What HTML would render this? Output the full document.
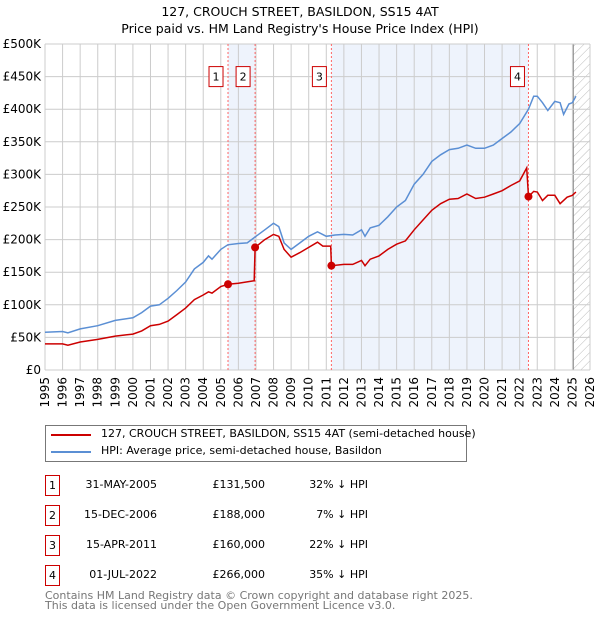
<!DOCTYPE html>
<html><head><meta charset="utf-8"><style>
body{margin:0;background:#fff;font-family:"DejaVu Sans","Liberation Sans",sans-serif;}
#wrap{position:relative;width:600px;height:620px;overflow:hidden}
.t{position:absolute;font-size:11px;color:#000;white-space:nowrap}
.box{position:absolute;width:13px;height:19px;border:1px solid #c00;font-size:11px;text-align:center;line-height:19px}
</style></head><body><div id="wrap">
<div class="t" style="left:0;width:600px;text-align:center;top:4px;font-size:12.5px">127, CROUCH STREET, BASILDON, SS15 4AT</div>
<div class="t" style="left:0;width:600px;text-align:center;top:21px;font-size:12.5px">Price paid vs. HM Land Registry's House Price Index (HPI)</div>
<svg id="chart" width="600" height="420" style="position:absolute;left:0;top:0"></svg>
<div style="position:absolute;left:45px;top:425px;width:420px;height:35px;border:1px solid #777">
<div><div style="position:absolute;left:5px;top:8px;width:40px;height:2px;background:#c00"></div><div class="t" style="left:55px;top:1px">127, CROUCH STREET, BASILDON, SS15 4AT (semi-detached house)</div></div>
<div><div style="position:absolute;left:5px;top:25px;width:40px;height:2px;background:#5b8fd4"></div><div class="t" style="left:55px;top:18px">HPI: Average price, semi-detached house, Basildon</div></div>
</div>
<div id="tbl"></div>
<div class="t" style="left:45px;top:589px;color:#777">Contains HM Land Registry data © Crown copyright and database right 2025.</div>
<div class="t" style="left:45px;top:599px;color:#777">This data is licensed under the Open Government Licence v3.0.</div>
</div>
<script>
const hpiYears=[1995,1996,1996.3,1997,1998,1999,2000,2000.5,2001,2001.5,2002,2002.5,2003,2003.5,2004,2004.3,2004.5,2005,2005.4,2006,2006.5,2007,2007.5,2008,2008.3,2008.6,2009,2009.5,2010,2010.5,2011,2011.5,2012,2012.5,2013,2013.2,2013.5,2014,2014.5,2015,2015.5,2016,2016.5,2017,2017.5,2018,2018.5,2019,2019.5,2020,2020.5,2021,2021.5,2022,2022.5,2022.8,2023,2023.3,2023.6,2024,2024.3,2024.5,2024.8,2025,2025.2];
const hpiValues=[58,59,57,63,68,76,80,88,98,100,110,122,135,155,165,175,170,185,192,194,195,205,215,225,220,195,185,195,205,212,205,207,208,207,215,205,218,222,235,250,260,285,300,320,330,338,340,345,340,340,345,355,365,378,400,420,420,410,398,412,410,392,408,410,420];
const priceYears=[1995,1996,1996.3,1997,1998,1999,2000,2000.5,2001,2001.5,2002,2002.5,2003,2003.5,2004,2004.3,2004.5,2005,2005.41,2006,2006.9,2006.95,2007.5,2008,2008.3,2008.6,2009,2009.5,2010,2010.5,2010.8,2011.25,2011.29,2012,2012.5,2013,2013.2,2013.5,2014,2014.5,2015,2015.5,2016,2016.5,2017,2017.5,2018,2018.5,2019,2019.5,2020,2020.5,2021,2021.5,2022,2022.4,2022.5,2022.8,2023,2023.3,2023.6,2024,2024.3,2024.7,2025,2025.2];
const priceValues=[40,40,38,43,47,52,55,60,68,70,75,85,95,108,115,120,118,128,131.5,133,137,188,200,208,205,185,173,180,188,196,190,190,160,162,162,168,160,170,175,185,193,198,215,230,245,255,262,263,270,263,265,270,275,283,290,310,266,274,273,260,268,268,255,265,268,273];
const saleLabels=["1","2","3","4"];
const saleDates=[2005.41,2006.95,2011.29,2022.5];
const saleValues=[131.5,188,160,266];
const saleDateText=["31-MAY-2005","15-DEC-2006","15-APR-2011","01-JUL-2022"];
const salePriceText=["£131,500","£188,000","£160,000","£266,000"];
const saleDiffText=["32% ↓ HPI","7% ↓ HPI","22% ↓ HPI","35% ↓ HPI"];
const yTicks=[0,50,100,150,200,250,300,350,400,450,500];
const yTickLabels=["£0","£50K","£100K","£150K","£200K","£250K","£300K","£350K","£400K","£450K","£500K"];
const xTicks=[];for(let y=1995;y<=2026;y++)xTicks.push(y);

const L=45,R=590,T=44,B=370;
const xs=v=>L+(v-1995)/(2026-1995)*(R-L);
const ys=v=>B-v/500*(B-T);
const svg=document.getElementById('chart');const NS='http://www.w3.org/2000/svg';
function mk(tag,attrs,name){const e=document.createElementNS(NS,tag);for(const k in attrs)e.setAttribute(k,attrs[k]);


svg.appendChild(e);return e;}
mk('rect',{x:xs(saleDates[0]),y:T,width:xs(saleDates[1])-xs(saleDates[0]),height:B-T,fill:'#eef3fc'},'shade-span-1-2');
mk('rect',{x:xs(saleDates[2]),y:T,width:xs(saleDates[3])-xs(saleDates[2]),height:B-T,fill:'#eef3fc'},'shade-span-3-4');
const defs=mk('defs',{},'defs');
defs.innerHTML='<pattern id="h" width="6" height="6" patternUnits="userSpaceOnUse" patternTransform="rotate(45)"><line x1="0" y1="0" x2="0" y2="6" stroke="#bbb" stroke-width="1"/></pattern>';
mk('rect',{x:xs(2025.05),y:T,width:R-xs(2025.05),height:B-T,fill:'url(#h)'},'forecast-hatch');
mk('line',{x1:xs(2025.05),y1:T,x2:xs(2025.05),y2:B,stroke:'#888','stroke-width':1},'data-end-line');
xTicks.forEach(y=>{mk('line',{x1:xs(y),y1:T,x2:xs(y),y2:B,stroke:'#ccc','stroke-width':1},'x-grid-'+y);
const t=mk('text',{x:0,y:0,'font-size':12,'text-anchor':'end',transform:`translate(${xs(y)+4},377) rotate(-90)`},'x-tick-'+y);t.textContent=y;});
yTicks.forEach((v,i)=>{mk('line',{x1:L,y1:ys(v),x2:R,y2:ys(v),stroke:'#ccc','stroke-width':1},'y-grid-'+v);
const t=mk('text',{x:L-4,y:ys(v)+4,'font-size':12,'text-anchor':'end'},'y-tick-'+v);t.textContent=yTickLabels[i];});
saleDates.forEach((d,i)=>{mk('line',{x1:xs(d),y1:T,x2:xs(d),y2:B,stroke:'#f66','stroke-width':1,'stroke-dasharray':'2,2'},'sale-line-'+saleLabels[i]);
const bx=xs(d)-(i==3?3:4)-15;mk('rect',{x:bx,y:ys(450)-10,width:14,height:20,fill:'#fff',stroke:'#c00'},'sale-marker-box-'+saleLabels[i]);
const t=mk('text',{x:bx+7,y:ys(450)+4,'font-size':11,'text-anchor':'middle'},'sale-marker-label-'+saleLabels[i]);t.textContent=saleLabels[i];});
const pts=(xa,va)=>xa.map((x,i)=>xs(x).toFixed(1)+','+ys(va[i]).toFixed(1)).join(' ');
mk('polyline',{points:pts(hpiYears,hpiValues),fill:'none',stroke:'#5b8fd4','stroke-width':1.5},'hpi-line');
mk('polyline',{points:pts(priceYears,priceValues),fill:'none',stroke:'#c00','stroke-width':1.5},'price-line');
saleDates.forEach((d,i)=>mk('circle',{cx:xs(d),cy:ys(saleValues[i]),r:4,fill:'#c00'},'sale-point-'+saleLabels[i]));
const tbl=document.getElementById('tbl');
saleLabels.forEach((l,i)=>{const y=475+i*30;const row=document.createElement('div');


row.innerHTML=`<div class="box" style="left:45px;top:${y}px">${l}</div><div class="t" style="left:80px;width:77px;text-align:right;top:${y+3}px">${saleDateText[i]}</div><div class="t" style="left:200px;width:65px;text-align:right;top:${y+3}px">${salePriceText[i]}</div><div class="t" style="left:300px;width:68px;text-align:right;top:${y+3}px">${saleDiffText[i]}</div>`;
tbl.appendChild(row);});
</script></body></html>
